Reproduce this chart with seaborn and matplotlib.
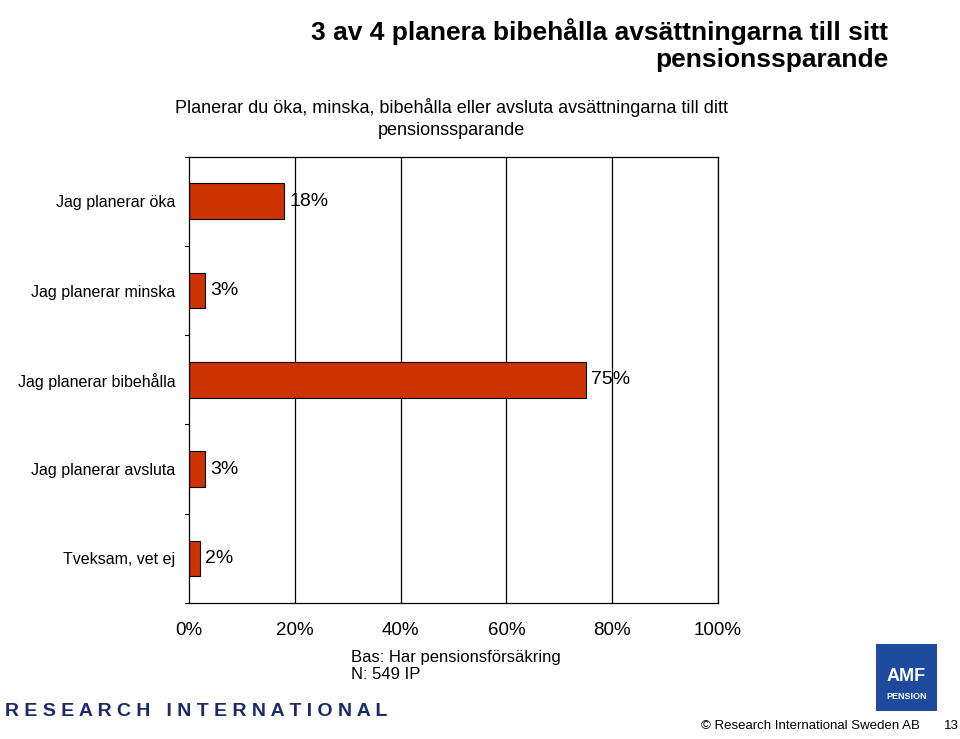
import matplotlib
matplotlib.use("Agg")
import matplotlib.pyplot as plt
import seaborn as sns
import pandas as pd
from matplotlib.patches import Rectangle

categories = ['Jag planerar öka', 'Jag planerar minska', 'Jag planerar bibehålla',
              'Jag planerar avsluta', 'Tveksam, vet ej']
values = [18, 3, 75, 3, 2]
xticks = [0, 20, 40, 60, 80, 100]
xticklabels = ['0%', '20%', '40%', '60%', '80%', '100%']

df = pd.DataFrame({'cat': categories, 'val': values})

sns.set_style('white')
plt.rcParams['font.family'] = 'Liberation Sans'
plt.rcParams['text.color'] = 'black'
plt.rcParams['xtick.color'] = 'black'
plt.rcParams['ytick.color'] = 'black'

fig = plt.figure(figsize=(9.6, 7.39), dpi=100)
ax = fig.add_axes([0.197, 0.184, 0.551, 0.604])

sns.barplot(data=df, x='val', y='cat', ax=ax, color='#cc3300', edgecolor='black',
            linewidth=0.8, width=0.4, saturation=1)

ax.set_xlim(0, 100)
ax.set_ylim(4.5, -0.5)
ax.set_xticks(xticks)
ax.set_xticklabels(xticklabels, fontsize=13.5)
ax.set_xlabel('')
ax.set_ylabel('')
ax.tick_params(axis='y', length=0, labelsize=11.5, pad=10)
ax.tick_params(axis='x', length=0, pad=14)
for x in xticks[1:]:
    ax.axvline(x, color='black', linewidth=0.9, zorder=0)
for s in ax.spines.values():
    s.set_color('black')
    s.set_linewidth(0.9)
# small boundary ticks on left
for b in [-0.5, 0.5, 1.5, 2.5, 3.5, 4.5]:
    ax.plot([-0.8, 0], [b, b], color='black', lw=0.8, clip_on=False)

for i, v in enumerate(values):
    ax.text(v + 1, i, f'{v}%', va='center', ha='left', fontsize=14)

fig.text(0.925, 0.975, '3 av 4 planera bibehålla avsättningarna till sitt\npensionssparande',
         ha='right', va='top', fontsize=19, fontweight='bold', linespacing=1.15)
fig.text(0.47, 0.868, 'Planerar du öka, minska, bibehålla eller avsluta avsättningarna till ditt\npensionssparande',
         ha='center', va='top', fontsize=13, linespacing=1.4)
fig.text(0.366, 0.120, 'Bas: Har pensionsförsäkring\nN: 549 IP', ha='left', va='top',
         fontsize=12, linespacing=1.1)
fig.text(0.005, 0.037, 'R E S E A R C H   I N T E R N A T I O N A L', ha='left', va='center',
         fontsize=14, color='#1a2a6c', fontweight='bold')
fig.patches.append(Rectangle((0.913, 0.038), 0.063, 0.09, transform=fig.transFigure,
                             facecolor='#1d4a9c', edgecolor='none'))
fig.text(0.944, 0.085, 'AMF', ha='center', va='center', fontsize=13, color='white', fontweight='bold')
fig.text(0.944, 0.057, 'PENSION', ha='center', va='center', fontsize=6.5, color='white', fontweight='bold')
fig.text(0.73, 0.009, '© Research International Sweden AB', ha='left', va='bottom', fontsize=9.5)
fig.text(0.983, 0.009, '13', ha='left', va='bottom', fontsize=9.5)

fig.savefig('out.png', dpi=100)
